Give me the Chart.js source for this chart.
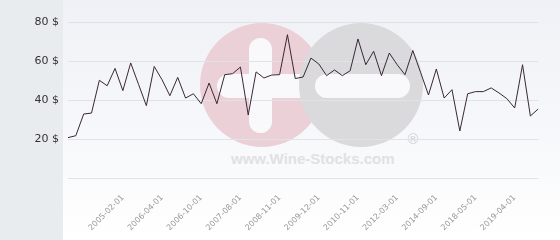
<!DOCTYPE html>
<html>
<head>
<meta charset="utf-8">
<script src="https://cdn.jsdelivr.net/npm/chart.js@4.4.1/dist/chart.umd.min.js"></script>
<style>
  html, body { margin: 0; padding: 0; background: #ffffff; }
  #wrap { position: relative; width: 560px; height: 240px; overflow: hidden; }
  #leftPanel { position: absolute; left: 0; top: 0; width: 63px; height: 240px; background: #e8ecef; }
  #rightPanel { position: absolute; left: 63px; top: 0; width: 497px; height: 240px;
    background: linear-gradient(to bottom, #eff1f6 0%, #f6f7fa 50%, #ffffff 100%); }
  .circle { position: absolute; border-radius: 50%; overflow: hidden; }
  .pill { position: absolute; background: #f9f9fb; border-radius: 12px; }
  #wmText { position: absolute; left: 231px; top: 150px; font: bold 15px "Liberation Sans", Arial, sans-serif;
    color: #e1e1e3; white-space: nowrap; }
  #wmReg { position: absolute; left: 406px; top: 131px; font: 14px "DejaVu Sans", sans-serif; color: #d2d2d4; }
  canvas { position: absolute; left: 0; top: 0; }
</style>
</head>
<body>
<div id="wrap">
  <div id="leftPanel"></div>
  <div id="rightPanel"></div>
  <div class="circle" style="left:200px; top:23px; width:124px; height:124px; background:#ebd0d7;">
    <div class="pill" style="left:49px; top:15px; width:23px; height:95px;"></div>
    <div class="pill" style="left:17px; top:51px; width:130px; height:24px;"></div>
  </div>
  <div class="circle" style="left:299px; top:23px; width:124px; height:124px; background:#dadadd;">
    <div class="pill" style="left:16px; top:51px; width:95px; height:24px;"></div>
  </div>
  <div id="wmText">www.Wine-Stocks.com</div>
  <div id="wmReg">®</div>
  <canvas id="c" width="560" height="240"></canvas>
</div>
<script>
const categories = ['', '', '', '', '', '', '', '2005-02-01', '', '', '', '', '2006-04-01', '', '', '', '',
  '2006-10-01', '', '', '', '', '2007-08-01', '', '', '', '', '2008-11-01', '', '', '', '', '2009-12-01',
  '', '', '', '', '2010-11-01', '', '', '', '', '2012-03-01', '', '', '', '', '2014-09-01', '', '', '', '',
  '2018-05-01', '', '', '', '', '2019-04-01', '', '', ''];

const prices = [20.7, 21.7, 32.8, 33.3, 50.1, 47.3, 56.2, 44.8, 59.0, 48.0,
  37.1, 57.2, 50.4, 42.2, 51.6, 41.0, 43.2, 38.1, 48.7, 38.1,
  53.0, 53.5, 56.9, 32.3, 54.4, 51.3, 52.8, 53.0, 73.5, 51.0,
  51.8, 61.5, 58.5, 52.5, 55.4, 52.5, 55.0, 71.3, 58.1, 65.0,
  52.5, 64.1, 58.1, 53.0, 65.4, 54.0, 42.6, 55.9, 41.0, 45.3,
  24.1, 43.2, 44.3, 44.3, 46.2, 43.6, 40.7, 35.9, 58.1, 31.8, 35.4];

const yTicks = [0, 20, 40, 60, 80];
const currency = '$';

new Chart(document.getElementById('c'), {
  type: 'line',
  data: {
    labels: categories,
    datasets: [{
      data: prices,
      borderColor: '#3a2733',
      borderWidth: 1,
      pointRadius: 0,
      pointHoverRadius: 0,
      tension: 0,
      fill: false
    }]
  },
  options: {
    responsive: false,
    animation: false,
    devicePixelRatio: 1,
    layout: { padding: { top: 22, right: 5, left: 0, bottom: 0 } },
    plugins: { legend: { display: false }, tooltip: { enabled: false } },
    scales: {
      x: {
        offset: false,
        grid: { display: false, drawTicks: false },
        border: { display: false },
        afterFit: (s) => { s.height = 62; },
        ticks: {
          autoSkip: false,
          minRotation: 45,
          maxRotation: 45,
          padding: 15,
          color: '#999999',
          font: { family: 'DejaVu Sans', size: 8 },
          callback: function (v, i) { return categories[i]; }
        }
      },
      y: {
        min: yTicks[0],
        max: yTicks[yTicks.length - 1],
        afterBuildTicks: (s) => { s.ticks = yTicks.map(v => ({ value: v })); },
        afterFit: (s) => { s.width = 68; },
        grid: { color: '#e2e2e4', lineWidth: 1, drawTicks: false },
        border: { display: false },
        ticks: {
          padding: 9,
          color: '#333333',
          font: { family: 'DejaVu Sans', size: 11 },
          callback: (v) => v === 0 ? '' : v + ' ' + currency
        }
      }
    }
  }
});
</script>
</body>
</html>
